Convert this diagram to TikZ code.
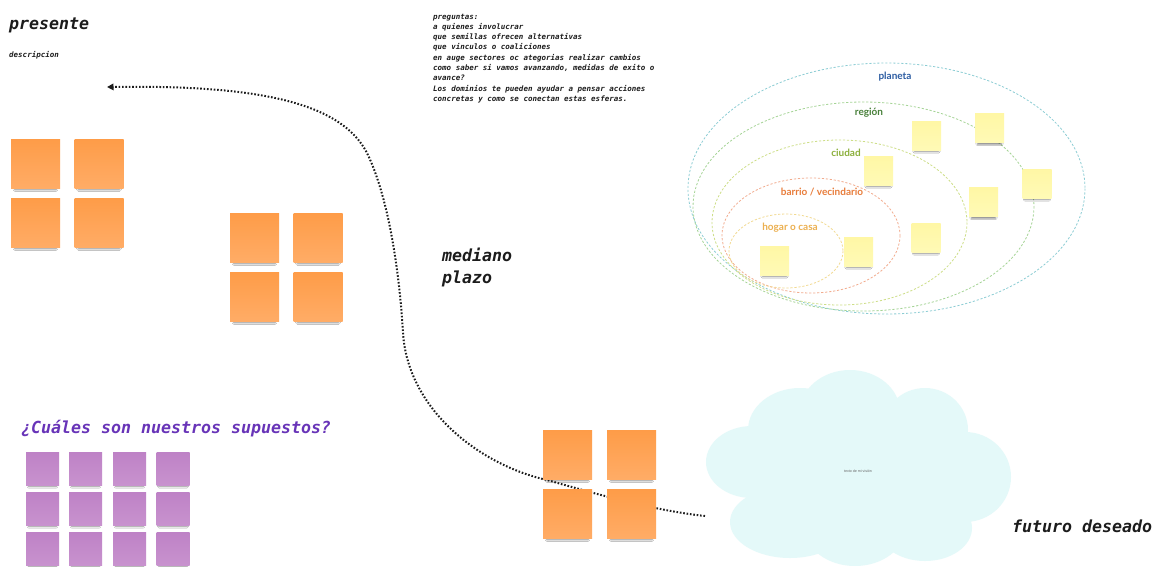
\documentclass[tikz,border=0pt]{standalone}
\usepackage{fontspec}
\setmainfont{Lato}
\newfontfamily\monofont{DejaVu Sans Mono}
\newfontfamily\smallsans{Liberation Sans}
\usetikzlibrary{arrows.meta,shadows.blur}
\definecolor{orTop}{RGB}{254,156,72}
\definecolor{orBot}{RGB}{255,172,102}
\definecolor{puTop}{RGB}{190,130,198}
\definecolor{puBot}{RGB}{200,146,206}
\definecolor{yeTop}{RGB}{255,247,165}
\definecolor{yeBot}{RGB}{255,250,182}
\definecolor{cloudc}{RGB}{228,249,249}
\definecolor{inkc}{RGB}{28,28,28}
\definecolor{titlepurple}{RGB}{104,52,184}
\definecolor{elPlaneta}{RGB}{140,205,212}
\definecolor{elRegion}{RGB}{165,212,150}
\definecolor{elCiudad}{RGB}{205,222,135}
\definecolor{elBarrio}{RGB}{242,172,142}
\definecolor{elHogar}{RGB}{242,218,145}
\definecolor{lbPlaneta}{RGB}{44,92,162}
\definecolor{lbRegion}{RGB}{72,128,58}
\definecolor{lbCiudad}{RGB}{140,176,60}
\definecolor{lbBarrio}{RGB}{232,124,58}
\definecolor{lbHogar}{RGB}{236,176,80}
\tikzset{
  notebase/.style={inner sep=0pt, outer sep=0pt},
  orangenote/.style={notebase, minimum size=49pt, top color=orTop, bottom color=orBot,
    blur shadow={shadow xshift=0pt, shadow yshift=-6.5pt, shadow blur radius=1.8pt, shadow opacity=45, shadow scale=0.85}},
  purplenote/.style={notebase, minimum size=33pt, top color=puTop, bottom color=puBot,
    blur shadow={shadow xshift=0pt, shadow yshift=-5pt, shadow blur radius=1.5pt, shadow opacity=45, shadow scale=0.85}},
  yellownote/.style={notebase, minimum size=29pt, top color=yeTop, bottom color=yeBot,
    blur shadow={shadow xshift=0pt, shadow yshift=-4.8pt, shadow blur radius=1.4pt, shadow opacity=45, shadow scale=0.85}},
  bigmono/.style={inner sep=0pt, anchor=base west, text=inkc, font=\monofont\bfseries\itshape\fontsize{16.6}{22}\selectfont},
  sphere/.style={dash pattern=on 2.2pt off 1.8pt, line width=0.8pt},
  spherelabel/.style={inner sep=0pt, font=\bfseries\fontsize{10}{12}\selectfont},
  pathline/.style={line width=2pt, dash pattern=on 1.6pt off 1.8pt, draw=inkc},
}
\begin{document}
\begin{tikzpicture}[x=1pt,y=-1pt]
\useasboundingbox (0,0) rectangle (1160,566);
\fill[white] (0,0) rectangle (1160,566);

% spheres
\draw[sphere, elPlaneta] (886.5,188.5) ellipse [x radius=198.5, y radius=125.5];
\draw[sphere, elRegion] (863.5,206.5) ellipse [x radius=170.5, y radius=104.5];
\draw[sphere, elCiudad] (839.5,222.5) ellipse [x radius=127.5, y radius=82.5];
\draw[sphere, elBarrio] (811,235.5) ellipse [x radius=89, y radius=57.5];
\draw[sphere, elHogar] (786,251) ellipse [x radius=57, y radius=37];
\node[spherelabel, text=lbPlaneta] (lplaneta) at (895,77) {planeta};
\node[spherelabel, text=lbRegion] (lregion) at (869,113) {región};
\node[spherelabel, text=lbCiudad] (lciudad) at (846,153) {ciudad};
\node[spherelabel, text=lbBarrio] (lbarrio) at (822,192) {barrio / vecindario};
\node[spherelabel, text=lbHogar] (lhogar) at (790,228) {hogar o casa};

% cloud
\begin{scope}[fill=cloudc]
\fill (858,470) ellipse [x radius=115, y radius=65];
\fill (850,412) ellipse [x radius=50, y radius=42];
\fill (800,430) ellipse [x radius=52, y radius=42];
\fill (925,430) ellipse [x radius=43, y radius=42];
\fill (752,462) ellipse [x radius=46, y radius=36];
\fill (965,477) ellipse [x radius=46, y radius=45];
\fill (790,522) ellipse [x radius=60, y radius=36];
\fill (855,528) ellipse [x radius=50, y radius=38];
\fill (925,528) ellipse [x radius=47, y radius=33];
\end{scope}
\node[inner sep=0pt, text=black!60, font=\smallsans\fontsize{3.6}{4}\selectfont] (vision) at (858,471) {texto de mi visión};

% dotted path
\coordinate (pstart) at (705,516);
\coordinate (pend) at (107,87);
\draw[pathline, -{Triangle[length=6.5pt,width=6.5pt]}]
  (pstart) .. controls (650,510) and (590,492) .. (547,480)
  .. controls (480,465) and (408,410) .. (403,333)
  .. controls (400,280) and (390,200) .. (367,153)
  .. controls (340,100) and (250,85) .. (pend);

% orange notes
\node[orangenote] (o1) at (35.5,163.5) {};
\node[orangenote] (o2) at (99,163.5) {};
\node[orangenote] (o3) at (35.5,222.5) {};
\node[orangenote] (o4) at (99,222.5) {};
\node[orangenote] (o5) at (254.5,237.5) {};
\node[orangenote] (o6) at (318,237.5) {};
\node[orangenote] (o7) at (254.5,296.5) {};
\node[orangenote] (o8) at (318,296.5) {};
\node[orangenote] (o9) at (567.5,454.5) {};
\node[orangenote] (o10) at (631.5,454.5) {};
\node[orangenote] (o11) at (567.5,513.5) {};
\node[orangenote] (o12) at (631.5,513.5) {};

% purple notes
\foreach \c [count=\i] in {42.5,85.5,129.5,173}{
  \foreach \r [count=\j] in {468.5,508.5,548.5}{
    \node[purplenote] (p\i\j) at (\c,\r) {};
  }
}

% yellow notes
\node[yellownote] (y1) at (926.5,135.5) {};
\node[yellownote] (y2) at (989.5,128) {};
\node[yellownote] (y3) at (878.5,170.5) {};
\node[yellownote] (y4) at (1037,183.5) {};
\node[yellownote] (y5) at (983.5,202) {};
\node[yellownote] (y6) at (926,237.5) {};
\node[yellownote] (y7) at (858.5,251.5) {};
\node[yellownote] (y8) at (774.5,260.5) {};

% texts
\node[bigmono] (presente) at (9,29) {presente};
\node[inner sep=0pt, anchor=base west, text=inkc, font=\monofont\bfseries\itshape\fontsize{7.5}{9}\selectfont] (descr) at (9,57.5) {descripcion};
\node[inner sep=0pt, anchor=north west, align=left, text=inkc, font=\monofont\bfseries\itshape\fontsize{7.5}{10.3}\selectfont] (preg) at (433,13.6) {preguntas:\\
a quienes involucrar\\
que semillas ofrecen alternativas\\
que vinculos o coaliciones\\
en auge sectores oc ategorias realizar cambios\\
como saber si vamos avanzando, medidas de exito o\\
avance?\\
Los dominios te pueden ayudar a pensar acciones\\
concretas y como se conectan estas esferas.};
\node[bigmono] (mediano) at (442,261) {mediano};
\node[bigmono] (plazo) at (442,283) {plazo};
\node[bigmono, text=titlepurple] (supuestos) at (21,433) {¿Cuáles son nuestros supuestos?};
\node[bigmono] (futuro) at (1012,532) {futuro deseado};
\end{tikzpicture}
\end{document}
